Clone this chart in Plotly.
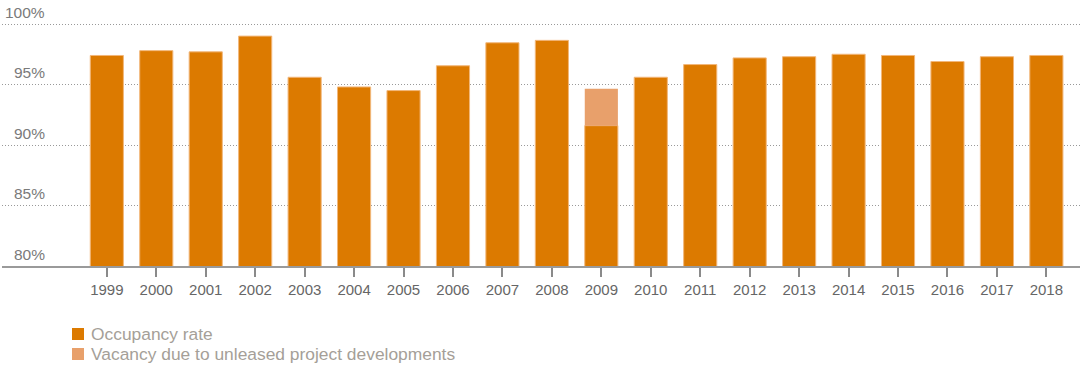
import plotly.graph_objects as go

years = [str(y) for y in range(1999, 2019)]
occupancy = [97.4, 97.8, 97.7, 99.0, 95.6, 94.8, 94.5, 96.55, 98.45, 98.65,
             91.6, 95.6, 96.65, 97.2, 97.3, 97.5, 97.4, 96.9, 97.3, 97.4]
vacancy_years = ["2009"]
vacancy_dev = [3.05]
y_ticks = [80, 85, 90, 95, 100]
y_tick_text = ["80%", "85%", "90%", "95%", "100%"]

ORANGE = "#DC7A00"
ORANGE_EDGE = "#F2B77A"
LIGHT = "#E8A06B"
FONT = "Liberation Sans, Arial, Helvetica, sans-serif"

# vacancy segment rests on top of that year's occupancy bar
vac_base = [occupancy[years.index(y)] for y in vacancy_years]

fig = go.Figure()
fig.add_bar(x=years, y=occupancy, name="Occupancy rate",
            marker=dict(color=ORANGE, line=dict(color=ORANGE_EDGE, width=1)))
fig.add_bar(x=vacancy_years, y=vacancy_dev, base=vac_base,
            name="Vacancy due to unleased project developments",
            marker=dict(color=LIGHT, line=dict(color=LIGHT, width=0)))

PLOT_W = 1078
PLOT_H = 245
BOTTOM = 266

# y labels sit just above their gridlines, right-aligned at the left edge
for v, t in zip(y_ticks, y_tick_text):
    fig.add_annotation(x=(47 - 2) / PLOT_W, xref="paper", y=v, yref="y",
                       xanchor="right", yanchor="middle", yshift=12, text=t,
                       showarrow=False,
                       font=dict(family=FONT, size=15.5, color="#7a7a7a"))

fig.update_layout(
    width=1088, height=367,
    margin=dict(l=2, r=8, t=21, b=101),
    plot_bgcolor="white", paper_bgcolor="white",
    barmode="overlay", bargap=0.33,
    showlegend=False,
    font=dict(family=FONT),
)

fig.update_xaxes(
    type="category", range=[-2.12, 19.68],
    showline=True, linecolor="#9a9a9a", linewidth=1.5,
    ticks="outside", ticklen=9, tickwidth=1.5, tickcolor="#8a8a8a",
    tickfont=dict(family=FONT, size=15, color="#666666"),
    showgrid=False,
)
fig.update_yaxes(
    range=[80, 100.25], tickvals=y_ticks, showticklabels=False,
    showgrid=True, gridcolor="#999999", gridwidth=1, griddash="1px,2px",
    zeroline=False,
)

# legend drawn as swatches with captions
legend_items = [("Occupancy rate", ORANGE), ("Vacancy due to unleased project developments", LIGHT)]
for i, (label, col) in enumerate(legend_items):
    cy = 334 + 20 * i
    fig.add_shape(type="rect", xref="paper", yref="paper",
                  x0=(72 - 2) / PLOT_W, x1=(84 - 2) / PLOT_W,
                  y0=(BOTTOM - (cy + 6)) / PLOT_H, y1=(BOTTOM - (cy - 6)) / PLOT_H,
                  fillcolor=col, line=dict(width=0))
    fig.add_annotation(xref="paper", yref="paper", x=(89 - 2) / PLOT_W,
                       y=(BOTTOM - cy) / PLOT_H,
                       xanchor="left", yanchor="middle", text=label, showarrow=False,
                       font=dict(family=FONT, size=17.4, color="#a59f98"))

fig.write_html("out.html")
